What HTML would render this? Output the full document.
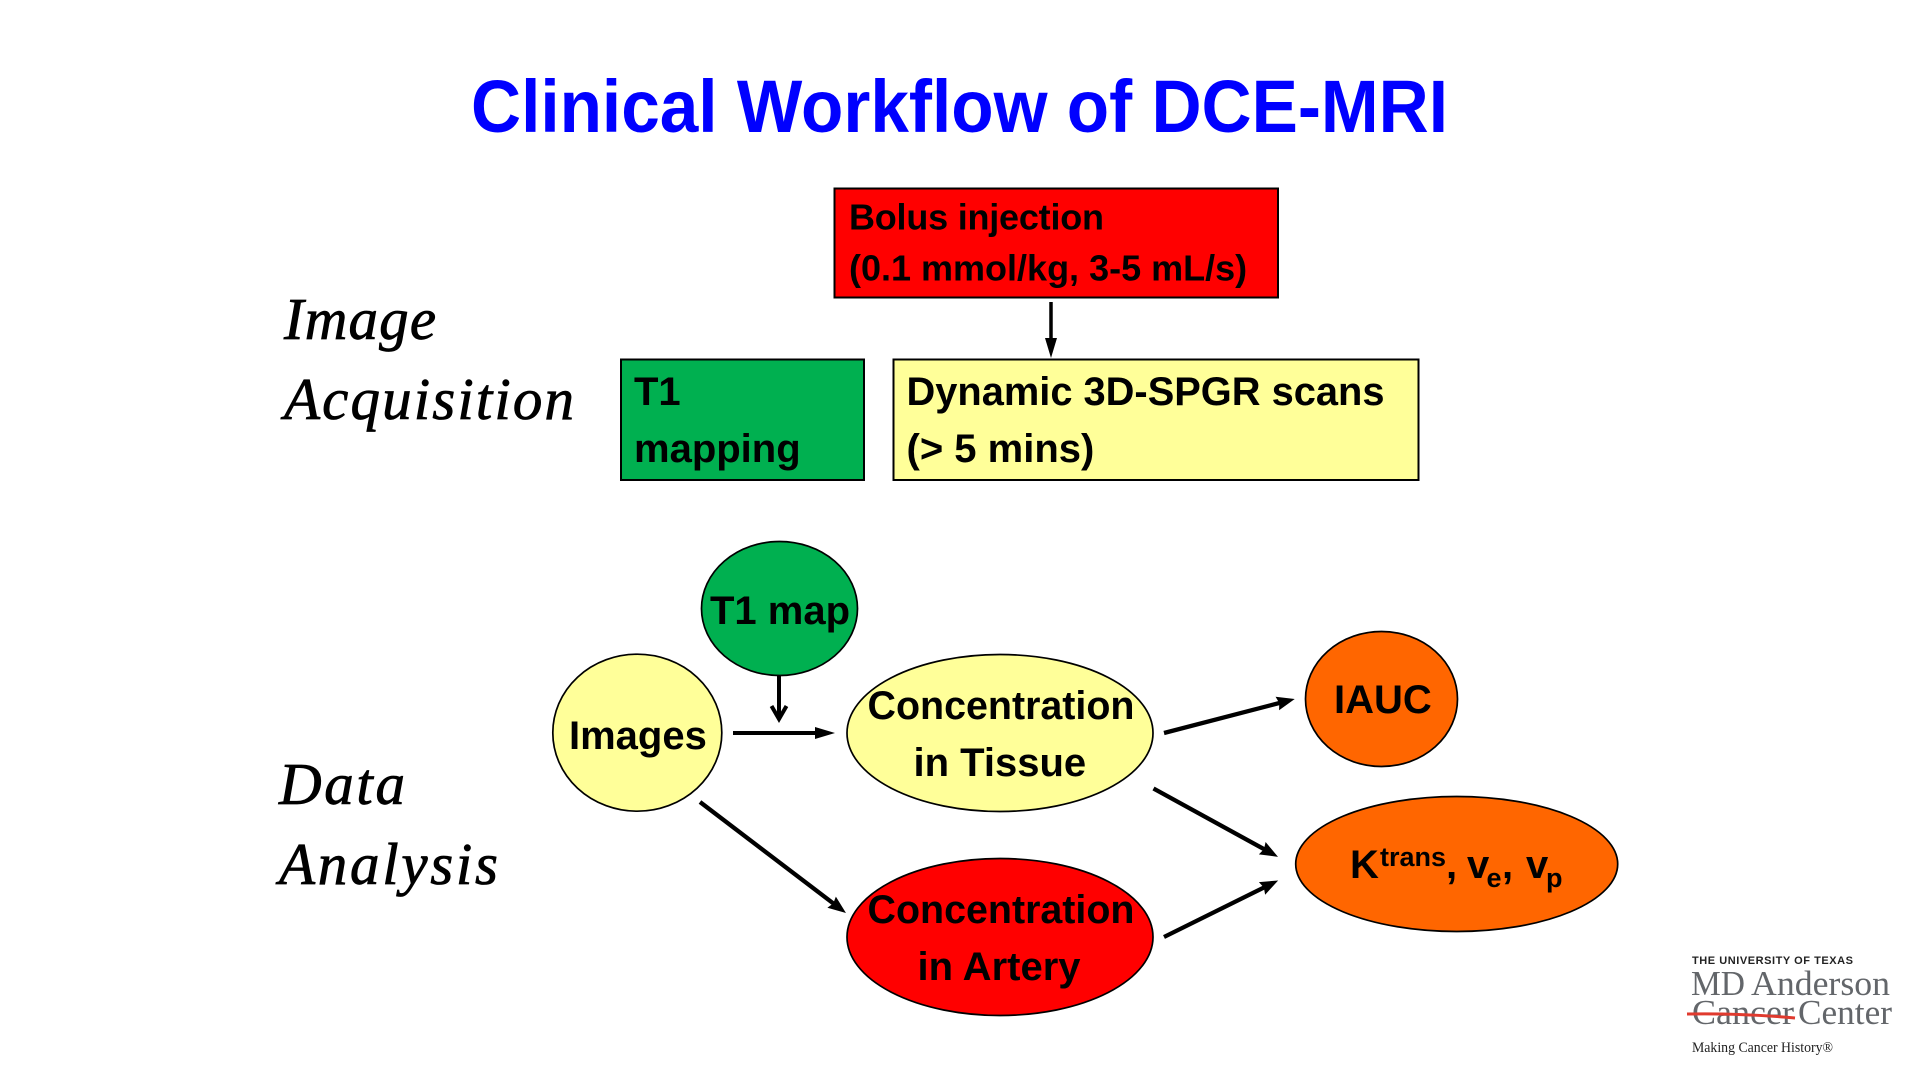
<!DOCTYPE html>
<html lang="en">
<head>
<meta charset="utf-8">
<title>Clinical Workflow of DCE-MRI</title>
<style>
html,body{margin:0;padding:0;background:#fff;width:1920px;height:1080px;overflow:hidden}
svg{display:block}
.b{font-family:"Liberation Sans",Arial,sans-serif;font-weight:bold;fill:#000}
.i{font-family:"Liberation Serif","Times New Roman",serif;font-style:italic;font-size:59px;fill:#000;stroke:#000;stroke-width:.8}
.s{font-family:"Liberation Serif","Times New Roman",serif;fill:#63666a}
</style>
</head>
<body>
<svg width="1920" height="1080" viewBox="0 0 1920 1080" xmlns="http://www.w3.org/2000/svg">
<defs>
<marker id="t" markerUnits="userSpaceOnUse" markerWidth="20" markerHeight="16" refX="10" refY="7" orient="auto"><path d="M0 0L18 7L0 14L2 7Z" fill="#000"/></marker>
<marker id="n" markerUnits="userSpaceOnUse" markerWidth="22" markerHeight="14" refX="12" refY="6" orient="auto"><path d="M0 0L20 6L0 12Z" fill="#000"/></marker>
</defs>

<text x="471" y="132" font-family="Liberation Sans,sans-serif" font-weight="bold" font-size="74" fill="#0000ff" textLength="977" lengthAdjust="spacingAndGlyphs">Clinical Workflow of DCE-MRI</text>

<g stroke="#000" stroke-width="2">
<rect x="834.500" y="188.500" width="443.500" height="109" fill="#ff0000"/>
<rect x="621" y="359.500" width="243" height="120.500" fill="#00b050"/>
<rect x="893.500" y="359.500" width="525" height="120.500" fill="#ffff99"/>
</g>

<text class="b" x="849" y="229.500" font-size="36" textLength="255" lengthAdjust="spacing">Bolus injection</text>
<text class="b" x="849" y="280.500" font-size="36">(0.1 mmol/kg, 3-5 mL/s)</text>
<text class="b" x="634" y="405" font-size="40">T1</text>
<text class="b" x="634" y="462" font-size="40">mapping</text>
<text class="b" x="906.500" y="405" font-size="40" textLength="478" lengthAdjust="spacingAndGlyphs">Dynamic 3D-SPGR scans</text>
<text class="b" x="906.500" y="462" font-size="40">(&gt; 5 mins)</text>

<text class="i" x="284" y="339" textLength="152" lengthAdjust="spacing">Image</text>
<text class="i" x="284" y="419" textLength="290" lengthAdjust="spacing">Acquisition</text>
<text class="i" x="279" y="804" textLength="126" lengthAdjust="spacing">Data</text>
<text class="i" x="279" y="884" textLength="219" lengthAdjust="spacing">Analysis</text>

<g stroke="#000" stroke-width="1.700">
<ellipse cx="779.500" cy="608.500" rx="78" ry="67" fill="#00b050"/>
<ellipse cx="637.300" cy="732.700" rx="84.500" ry="78.500" fill="#ffff99"/>
<ellipse cx="1000" cy="733" rx="153" ry="78.500" fill="#ffff99"/>
<ellipse cx="1000" cy="937" rx="153" ry="78.500" fill="#ff0000"/>
<ellipse cx="1381.500" cy="699" rx="76" ry="67.500" fill="#ff6600"/>
<ellipse cx="1456.700" cy="864" rx="161" ry="67.500" fill="#ff6600"/>
</g>

<text class="b" x="710" y="624" font-size="40">T1 map</text>
<text class="b" x="569" y="749" font-size="40">Images</text>
<text class="b" x="867.500" y="719" font-size="40" textLength="267" lengthAdjust="spacingAndGlyphs">Concentration</text>
<text class="b" x="913.500" y="776" font-size="40">in Tissue</text>
<text class="b" x="867.500" y="923" font-size="40" textLength="267" lengthAdjust="spacingAndGlyphs">Concentration</text>
<text class="b" x="917.500" y="980" font-size="40">in Artery</text>
<text class="b" x="1334" y="713" font-size="40">IAUC</text>

<text class="b" x="1350" y="878" font-size="40">K</text>
<text class="b" x="1380" y="866" font-size="27">trans</text>
<text class="b" x="1446" y="878" font-size="40">,</text>
<text class="b" x="1467" y="878" font-size="40">v</text>
<text class="b" x="1486.500" y="887" font-size="27">e</text>
<text class="b" x="1502" y="878" font-size="40">,</text>
<text class="b" x="1526" y="878" font-size="40">v</text>
<text class="b" x="1546" y="887" font-size="27">p</text>

<g stroke="#000" fill="none" stroke-width="4.300">
<line x1="1051" y1="302" x2="1051" y2="350" stroke-width="3.500" marker-end="url(#n)"/>
<path d="M779 676V718M771.500 706L779 719L786.500 706" stroke-width="4"/>
<line x1="733" y1="733" x2="827" y2="733" stroke-width="4" marker-end="url(#n)"/>
<line x1="700" y1="802" x2="839.600" y2="908.200" marker-end="url(#t)"/>
<line x1="1164" y1="733" x2="1287" y2="701" marker-end="url(#t)"/>
<line x1="1153.500" y1="788.500" x2="1271" y2="853" marker-end="url(#t)"/>
<line x1="1164" y1="937" x2="1271" y2="884" marker-end="url(#t)"/>
</g>

<text x="1692" y="964" font-family="Liberation Sans,sans-serif" font-size="11" font-weight="bold" fill="#222" textLength="161" lengthAdjust="spacing">THE UNIVERSITY OF TEXAS</text>
<text class="s" x="1691" y="995" font-size="35" textLength="54" lengthAdjust="spacingAndGlyphs">MD</text>
<text class="s" x="1751" y="995" font-size="35" textLength="139" lengthAdjust="spacingAndGlyphs">Anderson</text>
<text class="s" x="1692" y="1024" font-size="35" textLength="102" lengthAdjust="spacingAndGlyphs">Cancer</text>
<text class="s" x="1798" y="1024" font-size="35" textLength="94" lengthAdjust="spacingAndGlyphs">Center</text>
<path d="M1687 1014Q1740 1013 1795 1018" stroke="#e03a2e" stroke-width="3" fill="none"/>
<text x="1692" y="1052" font-family="Liberation Serif,serif" font-size="15" fill="#222" textLength="141" lengthAdjust="spacingAndGlyphs">Making Cancer History®</text>
</svg>
</body>
</html>
